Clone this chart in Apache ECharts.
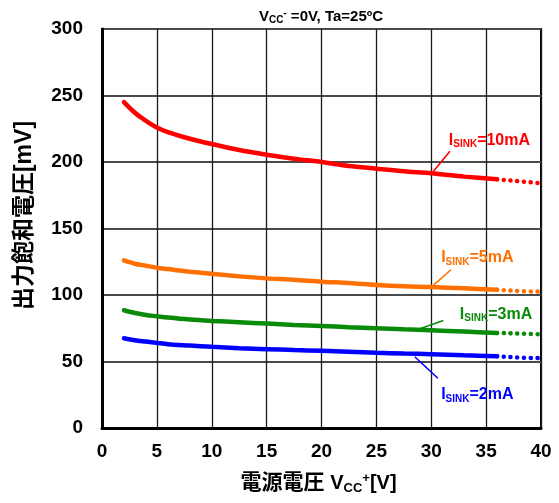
<!DOCTYPE html>
<html><head><meta charset="utf-8">
<script src="https://cdn.jsdelivr.net/npm/echarts@6/dist/echarts.min.js"></script>
<style>html,body{margin:0;padding:0;background:#fff}#c{width:559px;height:503px}</style>
</head><body><div id="c"></div>
<script>
// ---- data ----
const xSolid = [2, 3, 4, 5, 6, 8, 10, 12.5, 15, 17.5, 20, 22.5, 25, 27.5, 30, 33, 36];
const xDotted = [36, 38, 40];
const red10Solid = [245, 237, 231, 226, 222.5, 217.5, 213.5, 209, 205.5, 202.5, 200, 197, 195, 193, 191.5, 189, 187];
const red10Dotted = [187, 185.5, 184];
const orange5Solid = [126, 123.5, 122, 120.5, 119.5, 117.5, 116, 114, 112.5, 111.5, 110, 109, 107.5, 106.5, 106, 105, 104];
const orange5Dotted = [104, 103, 102.5];
const green3Solid = [88.5, 86.5, 85, 84, 83, 81.5, 80.5, 79.5, 78.5, 77.5, 76.7, 75.8, 75, 74.2, 73.5, 72.5, 71.5];
const green3Dotted = [71.5, 71, 70.5];
const blue2Solid = [67.5, 66, 65, 64, 63, 62, 61, 60, 59.3, 58.6, 58, 57.3, 56.6, 56, 55.5, 54.7, 54];
const blue2Dotted = [54, 53, 52.5];
const xTicks = [0, 5, 10, 15, 20, 25, 30, 35, 40];
const yTicks = [0, 50, 100, 150, 200, 250, 300];
const seriesNames = ['10mA', '5mA', '3mA', '2mA'];
// annotation anchors (data coords)
const labelAt = [[35.3, 216], [34.2, 127.8], [35.9, 85.5], [34.2, 24.8]];
const leaderFrom = [[31.7, 208], [31.8, 119], [31.1, 80.8], [28.5, 53.6]];
const leaderTo = [[30.2, 193], [30.2, 107.5], [28.7, 73.8], [30.6, 37.4]];

const colors = ['#ff0000', '#ff7000', '#0a8a0a', '#0000ff'];
const solids = [red10Solid, orange5Solid, green3Solid, blue2Solid];
const dotteds = [red10Dotted, orange5Dotted, green3Dotted, blue2Dotted];
const FONT = '"Liberation Sans", Arial, "Noto Sans CJK JP", sans-serif';

const zip = (xs, ys) => xs.map((x, i) => [x, ys[i]]);
const series = [];
for (let i = 0; i < 4; i++) {
  const c = colors[i];
  series.push({
    type: 'line', name: 'ISINK=' + seriesNames[i], data: zip(xSolid, solids[i]),
    showSymbol: false, smooth: 0.3, lineStyle: {color: c, width: 4.5, cap: 'round'}, z: 5,
    markLine: {
      silent: true, symbol: 'none', animation: false,
      lineStyle: {color: c, width: 1.6, type: 'solid'}, label: {show: false},
      data: [[{coord: leaderFrom[i]}, {coord: leaderTo[i]}]]
    },
    markPoint: {
      silent: true, symbol: 'circle', symbolSize: 0, animation: false,
      data: [{coord: labelAt[i]}],
      label: {
        show: true, position: 'inside', color: c,
        formatter: '{m|I}{s|SINK}{m|=' + seriesNames[i] + '}',
        rich: {
          m: {fontFamily: FONT, fontWeight: 'bold', fontSize: 16, lineHeight: 18, color: c},
          s: {fontFamily: FONT, fontWeight: 'bold', fontSize: 10, lineHeight: 6, verticalAlign: 'bottom', color: c}
        }
      }
    }
  });
  series.push({
    type: 'line', data: zip(xDotted, dotteds[i]), showSymbol: false, smooth: true, z: 5,
    lineStyle: {color: c, width: 4.5, type: [0.1, 6.6], cap: 'round'}
  });
}

const chart = echarts.init(document.getElementById('c'), null, {renderer: 'canvas'});
chart.setOption({
  animation: false,
  backgroundColor: '#fff',
  title: {
    text: '{m|V}{s|CC}{p|-}{m| =0V, Ta=25ºC}',
    left: 316, top: 3, textAlign: 'center',
    textStyle: {
      rich: {
        m: {fontFamily: FONT, fontWeight: 'bold', fontSize: 15, lineHeight: 17, color: '#000'},
        s: {fontFamily: FONT, fontWeight: 'bold', fontSize: 10, lineHeight: 6, verticalAlign: 'bottom', color: '#000'},
        p: {fontFamily: FONT, fontWeight: 'bold', fontSize: 10, lineHeight: 6, verticalAlign: 'top', color: '#000'}
      }
    }
  },
  grid: {left: 102, top: 29, right: 18, bottom: 75, show: true, borderColor: '#000', borderWidth: 2, backgroundColor: 'transparent'},
  xAxis: {
    type: 'value', min: xTicks[0], max: xTicks[xTicks.length - 1], interval: 5,
    name: '{c|電源電圧 }{m|V}{s|CC}{p|+}{m|[V]}', nameLocation: 'middle', nameGap: 44,
    nameTextStyle: {
      padding: [0, 6, 0, 0],
      rich: {
        c: {fontFamily: FONT, fontWeight: 'bold', fontSize: 21, lineHeight: 23, color: '#000'},
        m: {fontFamily: FONT, fontWeight: 'bold', fontSize: 20, lineHeight: 23, color: '#000'},
        s: {fontFamily: FONT, fontWeight: 'bold', fontSize: 13, lineHeight: 8, verticalAlign: 'bottom', color: '#000'},
        p: {fontFamily: FONT, fontWeight: 'bold', fontSize: 13, lineHeight: 8, verticalAlign: 'top', color: '#000'}
      }
    },
    axisLine: {lineStyle: {color: '#000', width: 3}},
    axisTick: {show: false},
    axisLabel: {fontFamily: FONT, fontWeight: 'bold', fontSize: 19, color: '#000', margin: 14},
    splitLine: {show: true, lineStyle: {color: '#1a1a1a', width: 1.3}}
  },
  yAxis: {
    type: 'value', min: yTicks[0], max: yTicks[yTicks.length - 1], interval: 50,
    name: '出力飽和電圧[mV]', nameLocation: 'middle', nameGap: 66,
    nameTextStyle: {fontFamily: FONT, fontWeight: 'bold', fontSize: 23, color: '#000', padding: [0, 0, 0, 26]},
    axisLine: {lineStyle: {color: '#000', width: 3}},
    axisTick: {show: false},
    axisLabel: {fontFamily: FONT, fontWeight: 'bold', fontSize: 19, color: '#000', margin: 19},
    splitLine: {show: true, lineStyle: {color: '#4a4a4a', width: 2}}
  },
  series: series
});
</script></body></html>
